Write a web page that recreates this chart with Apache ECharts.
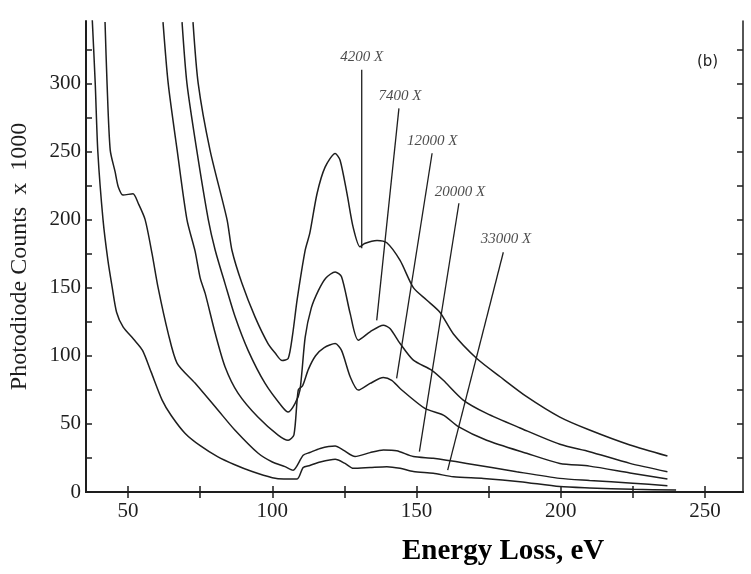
<!DOCTYPE html>
<html>
<head>
<meta charset="utf-8">
<script src="https://cdn.jsdelivr.net/npm/echarts@6/dist/echarts.min.js"></script>
<style>
  html, body { margin: 0; padding: 0; background: #fff; }
  #chart { width: 751px; height: 574px; }
</style>
</head>
<body>
<div id="chart"></div>
<script>
// energy loss (eV) and photodiode counts (x1000) per magnification
const e4200 = [72.5, 74.3, 78.4, 84.3, 86, 89.5, 94, 98.5, 101, 103.4, 105.5, 107, 108.6, 111.4, 113, 115.5, 118.3, 121.8, 123.5, 125.9, 128, 130.4, 132, 136.3, 139.7, 144.3, 148.9, 153.5, 158.1, 162.8, 170.9, 179, 188.2, 199.7, 210, 224, 237]
const c4200 = [345, 300, 251, 200, 177.5, 153, 128.6, 109, 102, 96.5, 98, 115, 141, 177.5, 190, 219, 238.5, 248.5, 243.6, 219, 194.6, 180, 182.5, 184.7, 183, 170, 150, 141, 132, 116, 98, 84.6, 70, 55, 45.5, 34.5, 26.4]

const e7400 = [68.7, 70.4, 73.8, 77.8, 80.2, 83.6, 87.1, 91.6, 97.5, 103.4, 105.5, 107.9, 109.6, 111.4, 113.5, 116, 118.5, 121.8, 124, 127, 129.8, 133.9, 138.5, 140.8, 144.3, 148.9, 155.2, 159.3, 166.2, 174.3, 185.9, 199.7, 210, 224, 237]
const c7400 = [345, 300, 251, 200, 177.5, 153, 128.6, 104, 79.7, 62.6, 58.7, 65, 75, 113.7, 135, 148, 157, 161.6, 158, 131, 111.5, 117.6, 122.5, 120, 109, 96.8, 89.5, 82, 67.5, 57.7, 47, 35, 29.6, 21, 14.9]

const e12000 = [62.1, 63.9, 67, 70.4, 73.2, 75, 76.7, 80.2, 83.6, 88.1, 95, 102, 105.5, 107.5, 109, 110.5, 112.5, 115, 118, 121.8, 124, 127, 129.8, 133.9, 138.5, 141.4, 144.3, 152.9, 159.3, 164.5, 174.3, 188.2, 199.7, 210, 224, 237]
const c12000 = [345, 300, 251, 200, 177, 157, 146, 116.5, 92, 72.6, 55, 41.8, 38, 42, 75, 78, 90, 100, 106, 109, 104, 84.6, 74.8, 79.7, 84, 82, 76, 61.4, 56.5, 48, 38, 28.4, 21, 19, 14, 9.5]

const e20000 = [42, 42.7, 43.8, 45.5, 46.6, 48.3, 51.7, 53.5, 55.9, 58.3, 60.4, 63.9, 67, 73.2, 81.2, 87, 95, 100, 104.4, 107.2, 110.7, 113, 116.6, 121.8, 124.6, 128.7, 133.9, 138.5, 143.1, 148.9, 155.8, 167.4, 184.7, 199.7, 210, 225, 237]
const c20000 = [345, 300, 251, 235, 224, 218, 219, 212, 200, 175, 150, 116.5, 94.5, 80, 60, 45.5, 28.6, 22, 18.6, 16, 27, 29, 32, 33.7, 30.8, 26, 28.9, 30.8, 30.3, 26, 24.7, 21, 14.9, 10, 8.5, 6.5, 4.6]

const e33000 = [37.5, 38.6, 39.5, 41.3, 43, 44.5, 46, 48.3, 52, 55, 58, 61.8, 65, 69.8, 75, 81, 87, 93, 100, 104, 108.6, 110.7, 113, 116.6, 121.8, 125.2, 128.1, 133.9, 139.7, 144.3, 148.9, 155.8, 162.8, 173.2, 185.9, 199.7, 210, 225, 240]
const c33000 = [350, 300, 250, 200, 170, 150, 132, 121, 112, 104, 88, 67.5, 56, 43, 34, 26, 20, 15, 10.5, 9.5, 9.5, 18, 19.5, 22, 24, 21, 17.4, 18, 18.6, 17.4, 15, 13.7, 11.2, 10, 7.6, 4, 3, 2, 1.5]

// pointer annotations: label, label anchor, line top, line bottom (data coords)
const pointerLabels = ['4200 X', '7400 X', '12000 X', '20000 X', '33000 X']
const labelAt = [[131, 319], [144.3, 291], [155.4, 258], [165.1, 220], [181, 186]]
const pointerTop = [[131, 310], [143.9, 281.7], [155.4, 248.7], [164.7, 212], [180.1, 176]]
const pointerBottom = [[131, 179], [136.2, 126], [143.1, 83.4], [151, 29.6], [160.8, 16.1]]

const xTicks = [50, 75, 100, 125, 150, 175, 200, 225, 250]
const xLabels = [50, 100, 150, 200, 250]
const yTicks = [0, 25, 50, 75, 100, 125, 150, 175, 200, 225, 250, 275, 300, 325]
const yLabels = [0, 50, 100, 150, 200, 250, 300]

const ink = '#1e1e1e'
const serif = "'Liberation Serif', 'DejaVu Serif', serif"

const zip = (xs, ys) => xs.map((x, i) => [x, ys[i]])

const curves = [
  zip(e4200, c4200),
  zip(e7400, c7400),
  zip(e12000, c12000),
  zip(e20000, c20000),
  zip(e33000, c33000),
]

const curveSeries = curves.map(data => ({
  type: 'line',
  data,
  showSymbol: false,
  smooth: 0.25,
  lineStyle: { color: ink, width: 1.5 },
  silent: true,
}))

const pointerSeries = pointerTop.map((top, i) => ({
  type: 'line',
  data: [top, pointerBottom[i]],
  showSymbol: false,
  lineStyle: { color: ink, width: 1.3 },
  silent: true,
}))

const labelSeries = {
  type: 'scatter',
  data: labelAt.map((p, i) => ({ value: p, name: pointerLabels[i] })),
  symbolSize: 0,
  silent: true,
  label: {
    show: true,
    position: 'inside',
    formatter: p => p.name,
    fontFamily: serif,
    fontStyle: 'italic',
    fontSize: 15,
    color: ink,
  },
}

const chart = echarts.init(document.getElementById('chart'))

const axisLine = { show: true, lineStyle: { color: ink, width: 2 } }

chart.setOption({
  animation: false,
  backgroundColor: '#fff',
  grid: { left: 86, right: 8, top: 21, bottom: 82, outerBoundsMode: 'none', containLabel: false },
  xAxis: [
    {
      type: 'value',
      position: 'bottom',
      min: 35.4,
      max: 263.2,
      axisLine,
      axisTick: { show: true, inside: true, length: 6, customValues: xTicks, lineStyle: { color: ink, width: 1.5 } },
      axisLabel: { customValues: xLabels, margin: 9, fontFamily: serif, fontSize: 21, color: ink },
      splitLine: { show: false },
    },
    {
      type: 'value',
      position: 'top',
      min: 35.4,
      max: 263.2,
      axisLine,
      axisTick: { show: true, inside: true, length: 6, customValues: xTicks, lineStyle: { color: ink, width: 1.5 } },
      axisLabel: { show: false },
      splitLine: { show: false },
    },
  ],
  yAxis: [
    {
      type: 'value',
      position: 'left',
      min: 0,
      max: 345.8,
      name: 'Photodiode Counts  x  1000',
      nameLocation: 'middle',
      nameGap: 54,
      nameTextStyle: { fontFamily: serif, fontSize: 24, color: ink },
      axisLine,
      axisTick: { show: true, inside: true, length: 6, customValues: yTicks, lineStyle: { color: ink, width: 1.5 } },
      axisLabel: { customValues: yLabels, margin: 5, fontFamily: serif, fontSize: 21, color: ink },
      splitLine: { show: false },
    },
    {
      type: 'value',
      position: 'right',
      min: 0,
      max: 345.8,
      axisLine: { show: true, lineStyle: { color: ink, width: 1.5 } },
      axisTick: { show: true, inside: true, length: 6, customValues: yTicks, lineStyle: { color: ink, width: 1.5 } },
      axisLabel: { show: false },
      splitLine: { show: false },
    },
  ],
  graphic: [
    {
      type: 'text',
      left: 697,
      top: 55,
      style: { text: '(b)', font: "15px 'DejaVu Sans', sans-serif", fill: ink },
    },
    {
      type: 'text',
      left: 402,
      top: 537,
      style: { text: 'Energy Loss, eV', font: "bold 29px 'Liberation Serif', serif", fill: '#000' },
    },
  ],
  series: [...curveSeries, ...pointerSeries, labelSeries],
})
</script>
</body>
</html>
